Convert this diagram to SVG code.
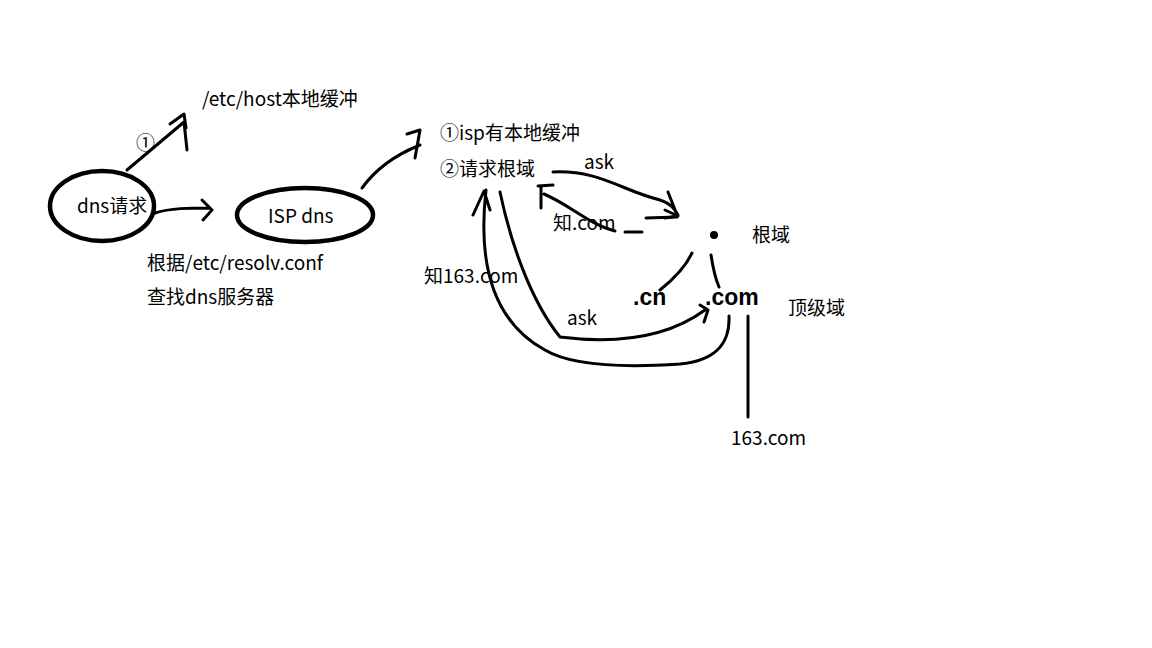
<svg xmlns="http://www.w3.org/2000/svg" width="1152" height="648" viewBox="0 0 1152 648">
<style>
.s{fill:none;stroke:#000;stroke-width:3;stroke-linecap:round;stroke-linejoin:round}
.e{fill:none;stroke:#000;stroke-width:4.5}
.t{font-family:"Microsoft YaHei","Noto Sans CJK SC",sans-serif;font-size:19px;fill:#000}
.b{font-family:"Liberation Sans","Noto Sans",sans-serif;font-size:23px;font-weight:bold;fill:#000}
</style>
<rect width="1152" height="648" fill="#fff"/>
<g id="dns-req"><ellipse class="e" cx="102" cy="206" rx="52" ry="35"/><text class="t" x="77" y="213">dns请求</text></g>
<g id="isp"><ellipse class="e" cx="305" cy="215" rx="68" ry="27"/><text class="t" x="268" y="223">ISP dns</text></g>
<g id="labels">
<text class="t" x="202" y="106">/etc/host本地缓冲</text>
<text class="t" x="136" y="150">①</text>
<text class="t" x="147" y="270">根据/etc/resolv.conf</text>
<text class="t" x="147" y="304">查找dns服务器</text>
<text class="t" x="440" y="140">①isp有本地缓冲</text>
<text class="t" x="440" y="176">②请求根域</text>
<text class="t" x="584" y="169">ask</text>
<text class="t" x="553" y="230">知.com</text>
<text class="t" x="424" y="283">知163.com</text>
<text class="t" x="567" y="325">ask</text>
<text class="t" x="752" y="242">根域</text>
<text class="t" x="788" y="315">顶级域</text>
<text class="t" x="731" y="445">163.com</text>
<text class="b" x="633" y="305">.cn</text>
<text class="b" x="705" y="305">.com</text>
<circle id="root" cx="714" cy="235" r="4"/>
</g>
<g id="connectors">
<path class="s" d="M127 170 L184 122 L187 150 M170 124 L184 114 L186 128"/>
<path class="s" d="M155 213 C170 208 190 208 210 208 M202 200 L212 210 L203 220"/>
<path class="s" d="M362 188 C375 170 395 155 420 145 M407 134 L420 130 L415 158"/>
<path class="s" d="M553 172 C600 170 620 190 660 200 C672 204 675 210 678 215 M665 210 L678 216 L665 218 M668 192 L677 215"/>
<path class="s" d="M646 218 L677 217"/>
<path class="s" d="M625 232 L642 232"/>
<path class="s" d="M615 231 C590 225 570 205 544 194 M538 186 L553 185 M541 186 L541 208"/>
<path class="s" d="M692 253 C685 268 670 282 660 290"/>
<path class="s" d="M711 255 C713 268 716 280 719 287"/>
<path class="s" d="M500 192 C510 240 530 300 560 337 C600 342 660 343 705 310 M700 305 L708 310 L704 322"/>
<path class="s" d="M729 316 C730 340 720 360 680 364 C620 368 570 365 545 350 C490 320 478 260 486 190 M473 215 L484 191 L490 210"/>
<path class="s" d="M748 316 L748 417"/>
</g>
</svg>
